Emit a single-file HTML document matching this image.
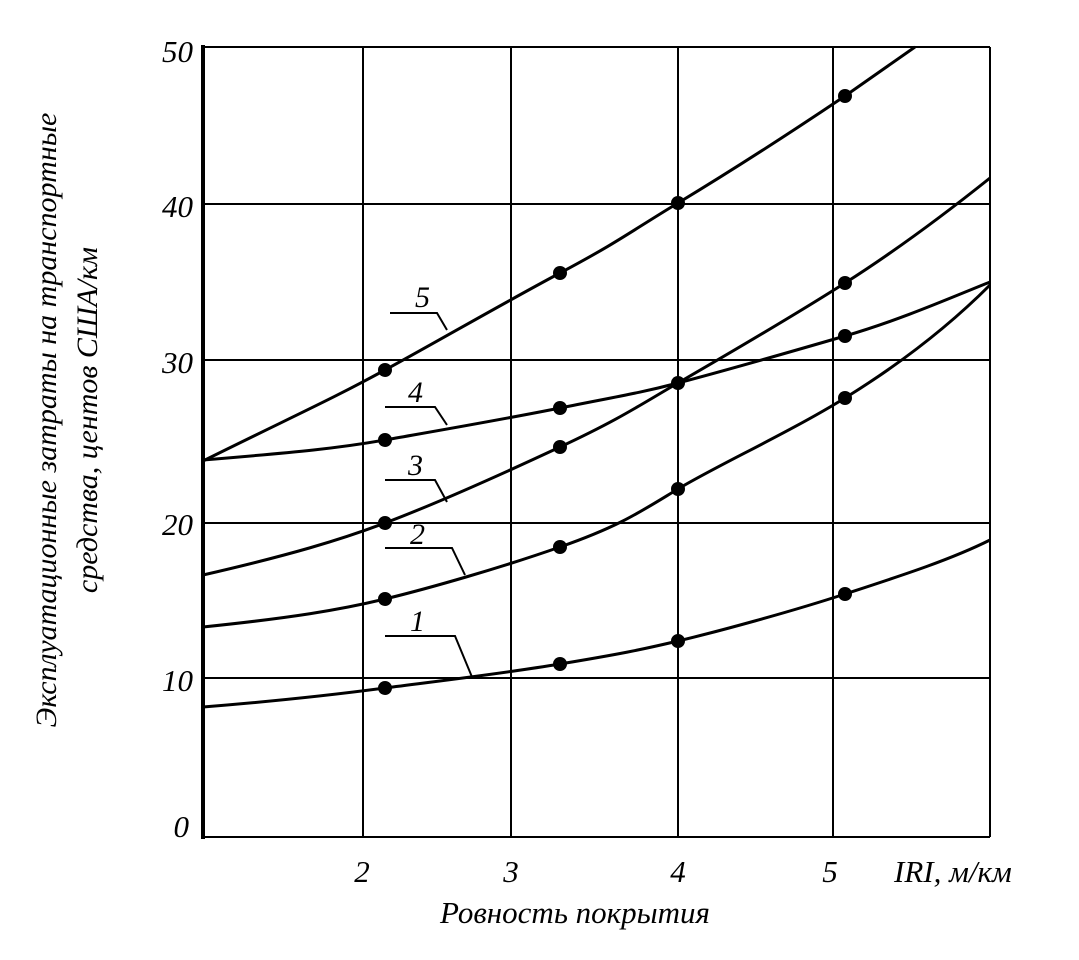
<!DOCTYPE html>
<html><head><meta charset="utf-8"><style>body{margin:0;background:#fff}</style></head><body>
<svg width="1079" height="955" xmlns="http://www.w3.org/2000/svg" font-family="Liberation Serif, serif" font-style="italic">
<g stroke="#000" stroke-width="2" fill="none">
<line x1="203" y1="47" x2="990" y2="47"/><line x1="203" y1="204" x2="990" y2="204"/>
<line x1="203" y1="360" x2="990" y2="360"/><line x1="203" y1="523" x2="990" y2="523"/>
<line x1="203" y1="678" x2="990" y2="678"/><line x1="203" y1="837" x2="990" y2="837"/>
<line x1="363" y1="47" x2="363" y2="837"/><line x1="511" y1="47" x2="511" y2="837"/>
<line x1="678" y1="47" x2="678" y2="837"/><line x1="833" y1="47" x2="833" y2="837"/>
<line x1="990" y1="47" x2="990" y2="837"/>
<line x1="203" y1="45" x2="203" y2="839" stroke-width="4"/>
</g>
<g stroke="#000" stroke-width="3" fill="none">
<path d="M203,461 C300,413 330,400 385,370 S500,305 560,273 S630,232 678,203 S790,133 845,96 L915,47"/>
<path d="M203,460 C300,452 340,448 385,440 S500,420 560,408 S640,393 678,383 S790,352 845,336 S950,298 990,282"/>
<path d="M203,575 C290,555 340,540 385,523 S500,475 560,447 S640,405 678,383 S790,318 845,283 S950,210 990,178"/>
<path d="M203,627 C290,618 340,610 385,599 S500,568 560,547 S640,512 678,489 S790,432 845,398 S950,325 990,285"/>
<path d="M203,707 C290,700 340,694 385,688 S500,674 560,664 S640,650 678,641 S790,612 845,594 S950,560 990,540"/>
</g>
<g stroke="#000" stroke-width="2" fill="none">
<path d="M390,313 H437 L447,330"/><path d="M385,407 H435 L447,425"/>
<path d="M385,480 H435 L447,502"/><path d="M385,548 H452 L465,575"/>
<path d="M385,636 H455 L472,677"/>
</g>
<g fill="#000">
<circle cx="385" cy="370" r="7"/><circle cx="560" cy="273" r="7"/><circle cx="678" cy="203" r="7"/><circle cx="845" cy="96" r="7"/>
<circle cx="385" cy="440" r="7"/><circle cx="560" cy="408" r="7"/><circle cx="678" cy="383" r="7"/><circle cx="845" cy="336" r="7"/>
<circle cx="385" cy="523" r="7"/><circle cx="560" cy="447" r="7"/><circle cx="845" cy="283" r="7"/>
<circle cx="385" cy="599" r="7"/><circle cx="560" cy="547" r="7"/><circle cx="678" cy="489" r="7"/><circle cx="845" cy="398" r="7"/>
<circle cx="385" cy="688" r="7"/><circle cx="560" cy="664" r="7"/><circle cx="678" cy="641" r="7"/><circle cx="845" cy="594" r="7"/>
</g>
<g font-size="30" fill="#000">
<text x="415" y="307">5</text><text x="408" y="402">4</text><text x="408" y="475">3</text><text x="410" y="544">2</text><text x="410" y="631">1</text>
</g>
<g font-size="31" fill="#000" text-anchor="end">
<text x="193" y="62">50</text><text x="193" y="217">40</text><text x="193" y="373">30</text>
<text x="193" y="535">20</text><text x="193" y="691">10</text><text x="189" y="837">0</text>
</g>
<g font-size="31" fill="#000" text-anchor="middle">
<text x="362" y="882">2</text><text x="511" y="882">3</text><text x="678" y="882">4</text><text x="830" y="882">5</text>
<text x="575" y="923">Ровность покрытия</text>
</g>
<text x="894" y="882" font-size="31" fill="#000">IRI, м/км</text>
<g font-size="30" fill="#000" text-anchor="middle">
<text transform="translate(56,420) rotate(-90)">Эксплуатационные затраты на транспортные</text>
<text transform="translate(97,420) rotate(-90)">средства, центов США/км</text>
</g>
</svg>
</body></html>
